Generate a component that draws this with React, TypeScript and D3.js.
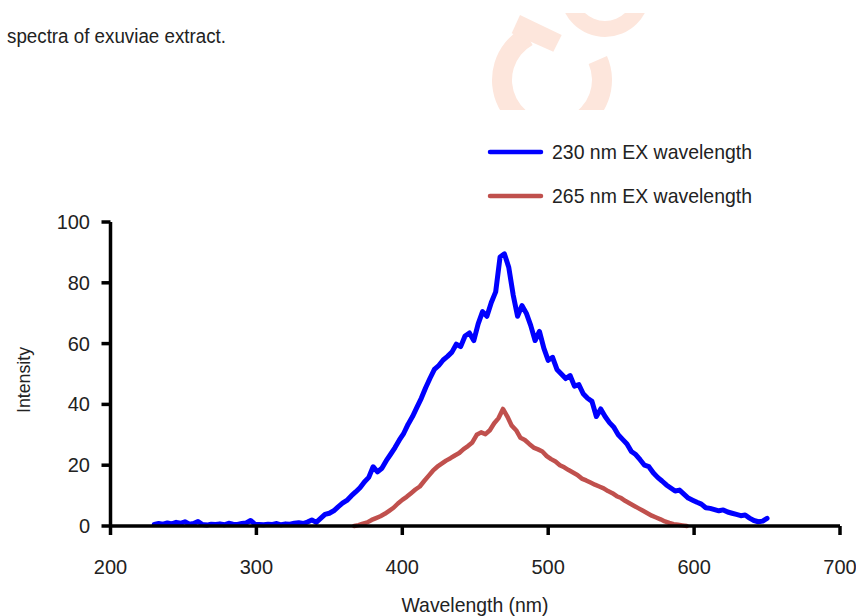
import * as d3 from "d3";
import React from "react";

// wavelength sampling (nm) and intensities
const blueStart = 230;
const blueStep = 3;
const blueValues = [
  0.5, 0.8, 0.6, 1.0, 0.7, 1.2, 0.9, 1.4, 0.6, 0.8,
  1.5, 0.5, 0.3, 0.6, 0.5, 0.7, 0.4, 0.9, 0.6, 0.5,
  0.8, 1.0, 1.8, 0.6, 0.5, 0.4, 0.6, 0.5, 0.8, 0.4,
  0.7, 0.6, 0.9, 1.1, 0.8, 1.3, 2.0, 1.2, 2.5, 3.8,
  4.2, 5.0, 6.3, 7.5, 8.4, 9.9, 11.2, 12.6, 14.5, 16.0,
  19.5, 17.8, 19.0, 21.5, 23.6, 25.8, 28.3, 30.5, 33.5, 36.0,
  39.0, 42.0, 45.5, 48.6, 51.5, 52.8, 54.6, 55.8, 57.2, 59.8,
  59.0, 62.5, 63.5, 61.0, 66.5, 70.5, 69.0, 73.5, 77.0, 88.5,
  89.5, 85.0, 76.0, 69.0, 72.5, 70.0, 66.0, 61.0, 64.0, 58.5,
  54.5, 55.5, 51.5, 50.0, 48.5, 49.5, 46.0, 46.5, 43.5, 42.0,
  41.0, 36.0, 38.5, 36.0, 34.0, 32.5, 30.0, 28.5, 27.0, 24.5,
  23.5, 21.8, 20.0, 19.5, 17.5, 16.0, 14.8, 13.5, 12.5, 11.5,
  11.8, 10.5, 9.2, 8.5, 7.8, 7.2, 6.0, 5.8, 5.4, 5.0,
  5.3, 4.6, 4.2, 3.8, 3.4, 3.6, 2.6, 1.8, 1.4, 1.6,
  2.5,
];

const redStart = 367;
const redStep = 3;
const redValues = [
  0.0, 0.3, 0.8, 1.2, 2.0, 2.6, 3.2, 4.0, 5.0, 6.0,
  7.4, 8.6, 9.6, 10.8, 12.0, 13.0, 14.8, 16.5, 18.2, 19.5,
  20.5, 21.5, 22.3, 23.2, 24.0, 25.3, 26.3, 27.5, 30.0, 30.8,
  30.2, 31.5, 33.8, 35.5, 38.5, 36.0, 33.0, 31.5, 29.0, 28.3,
  27.0, 25.8, 25.2, 24.5, 23.0, 22.0, 21.2, 20.0, 19.3, 18.4,
  17.6, 16.8, 15.6, 15.0, 14.3, 13.6, 13.0, 12.4, 11.5, 10.8,
  9.8, 9.2, 8.2, 7.4, 6.6, 5.8, 5.0, 4.2, 3.4, 2.8,
  2.2, 1.5, 1.0, 0.6, 0.4, 0.2, 0.0,
];

const xTicks = [200, 300, 400, 500, 600, 700];
const yTicks = [0, 20, 40, 60, 80, 100];
const seriesNames = ["230 nm EX wavelength", "265 nm EX wavelength"];
const seriesColors = ["#0000ff", "#c0504d"];

const W = 856;
const H = 616;
const font = "'Liberation Sans', Arial, sans-serif";
const markColor = "#fde6dc";

export default function App() {
  const x = d3.scaleLinear().domain([200, 700]).range([110.5, 840]);
  const y = d3.scaleLinear().domain([0, 100]).range([526, 222]);

  const toPts = (start: number, step: number, vals: number[]) =>
    vals.map((v, i) => [start + i * step, v] as [number, number]);

  const line = d3
    .line<[number, number]>()
    .x((d) => x(d[0]))
    .y((d) => y(d[1]));

  const series = [
    toPts(blueStart, blueStep, blueValues),
    toPts(redStart, redStep, redValues),
  ];

  const deg = Math.PI / 180;
  const ring = d3.arc()({
    innerRadius: 40,
    outerRadius: 60,
    startAngle: -293.6 * deg,
    endAngle: -29 * deg,
  } as any);
  const topArc = d3.arc()({
    innerRadius: 29,
    outerRadius: 45,
    startAngle: 90 * deg,
    endAngle: 270 * deg,
  } as any);

  return (
    <div style={{ position: "absolute", left: 0, top: 0, width: W, height: H, background: "#fff" }}>
      <svg width={W} height={H} style={{ display: "block" }}>
        <defs>
          <clipPath id="wm">
            <rect x={480} y={13} width={180} height={97} />
          </clipPath>
        </defs>

        {/* faint logo in the page header */}
        <g clipPath="url(#wm)" fill={markColor}>
          <path d={ring ?? ""} transform="translate(552,80)" />
          <path d={topArc ?? ""} transform="translate(605,-8)" />
          <polygon points="520,15 561.7,35 553.3,51.7 511.7,33.3" />
        </g>

        <text
          x={7}
          y={43}
          fontFamily={font}
          fontSize={19.5}
          fill="#222"
          textLength={219}
          lengthAdjust="spacingAndGlyphs"
        >
          spectra of exuviae extract.
        </text>

        {/* legend */}
        {seriesNames.map((name, i) => (
          <g key={name} transform={`translate(0,${152 + i * 44})`}>
            <line x1={490} x2={541} y1={0} y2={0} stroke={seriesColors[i]} strokeWidth={4.5} strokeLinecap="round" />
            <text
              x={552}
              y={7}
              fontFamily={font}
              fontSize={21}
              fill="#222"
              textLength={200}
              lengthAdjust="spacingAndGlyphs"
            >
              {name}
            </text>
          </g>
        ))}

        {/* series */}
        {series.map((pts, i) => (
          <path
            key={i}
            d={line(pts) ?? ""}
            fill="none"
            stroke={seriesColors[i]}
            strokeWidth={i === 0 ? 5 : 4.5}
            strokeLinejoin="round"
            strokeLinecap="round"
          />
        ))}

        {/* axes */}
        <g stroke="#000" strokeWidth={3.5}>
          <line x1={x(200)} x2={x(200)} y1={y(100)} y2={y(0)} />
          <line x1={x(200)} x2={x(700)} y1={y(0)} y2={y(0)} />
          {yTicks.map((t) => (
            <line key={"yt" + t} x1={x(200) - 9} x2={x(200)} y1={y(t)} y2={y(t)} />
          ))}
          {xTicks.map((t) => (
            <line key={"xt" + t} x1={x(t)} x2={x(t)} y1={y(0)} y2={y(0) + 9} />
          ))}
        </g>

        {yTicks.map((t) => (
          <text
            key={"yl" + t}
            x={90}
            y={y(t) + 7}
            textAnchor="end"
            fontFamily={font}
            fontSize={20}
            fill="#222"
          >
            {t}
          </text>
        ))}
        {xTicks.map((t) => (
          <text
            key={"xl" + t}
            x={x(t)}
            y={574}
            textAnchor="middle"
            fontFamily={font}
            fontSize={20}
            fill="#222"
          >
            {t}
          </text>
        ))}

        <text
          x={475}
          y={612}
          textAnchor="middle"
          fontFamily={font}
          fontSize={21}
          fill="#222"
          textLength={147}
          lengthAdjust="spacingAndGlyphs"
        >
          Wavelength (nm)
        </text>
        <text
          transform="translate(30,380) rotate(-90)"
          textAnchor="middle"
          fontFamily={font}
          fontSize={19}
          fill="#222"
          textLength={66}
          lengthAdjust="spacingAndGlyphs"
        >
          Intensity
        </text>
      </svg>
    </div>
  );
}
